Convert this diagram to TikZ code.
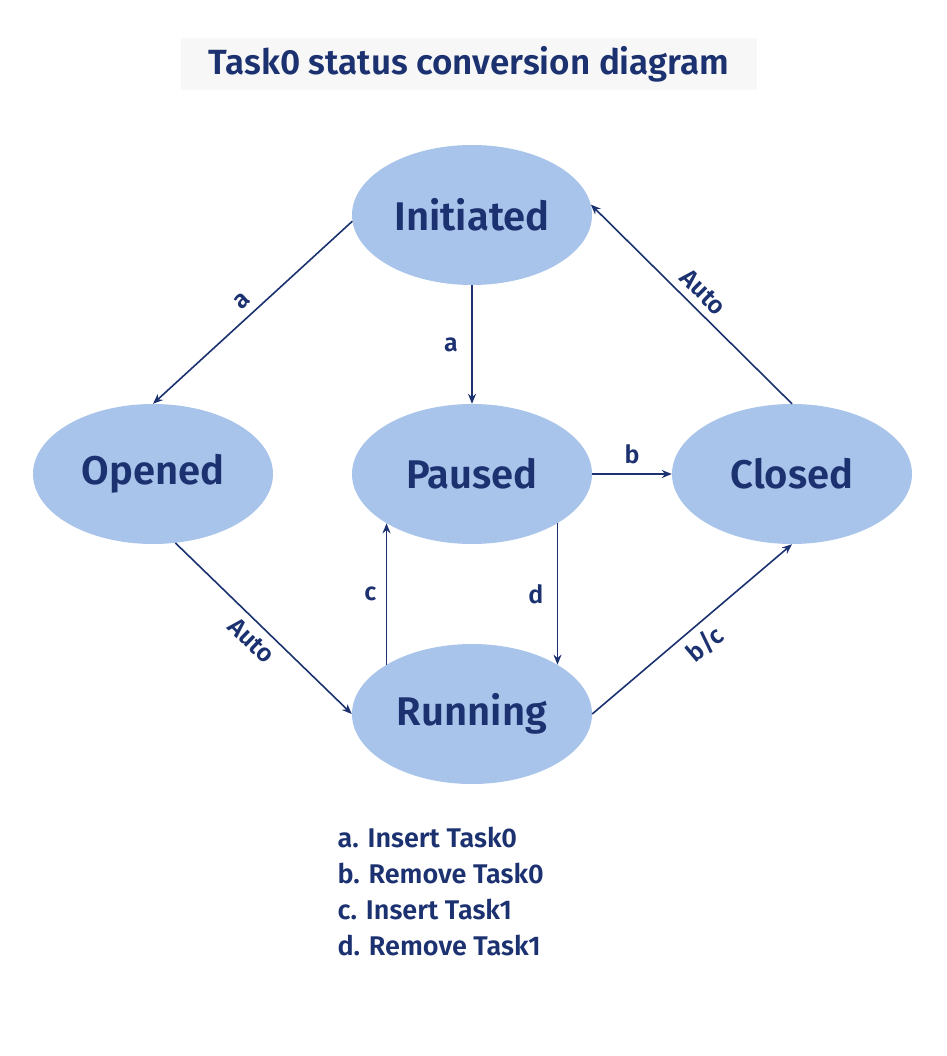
\documentclass[tikz,border=0pt]{standalone}
\usepackage{fontspec}
\setmainfont{Fira Sans}[BoldFont={Fira Sans SemiBold}]
\usetikzlibrary{shapes.geometric,arrows.meta}
\definecolor{navy}{HTML}{1B3170}
\definecolor{stateblue}{HTML}{A9C4EA}
\tikzset{
    >={Stealth[length=10pt,width=8pt]},
    state/.style={
        ellipse,
        fill=stateblue,
        minimum width=240pt,
        minimum height=140pt,
        inner sep=0pt,
        text=navy,
        font=\fontsize{40}{46}\selectfont\bfseries
    },
    trans/.style={draw=navy, line width=1.6pt, ->},
    lbl/.style={text=navy, font=\fontsize{25}{29}\selectfont\bfseries}
}
\begin{document}
\begin{tikzpicture}[x=1pt,y=-1pt]
    \useasboundingbox (0,0) rectangle (946,1056);
    \fill[gray!6] (181,38) rectangle (757,90);
    \node[text=navy, font=\fontsize{35}{40}\selectfont\bfseries] (title) at (469,64) {Task0 status conversion diagram};

    \node[state] (Init) at (472,215) {Initiated};
    \node[state] (Open) at (153,474) {Opened};
    \node[state] (Pau) at (472,474) {Paused};
    \node[state] (Clo) at (792,474) {Closed};
    \node[state] (Run) at (472,714) {Running};

    \draw[trans] (Init.183) -- node[lbl, sloped, above=4pt] {a} (Open.north);
    \draw[trans] (Init.south) -- node[lbl, left=10pt] {a} (Pau.north);
    \draw[trans] (Pau.east) -- node[lbl, above=6pt] {b} (Clo.west);
    \draw[trans] (Pau.-30) -- node[lbl, left=10pt] {d} (Run.30);
    \draw[trans] (Run.150) -- node[lbl, left=6pt] {c} (Pau.-150);
    \draw[trans] (Open.-72) -- node[lbl, sloped, below=4pt] {Auto} (Run.180);
    \draw[trans] (Run.0) -- node[lbl, sloped, below=4pt] {b/c} (Clo.-90);
    \draw[trans] (Clo.north) -- node[lbl, sloped, above=4pt] {Auto} (Init.5);

    \node[lbl, align=left, anchor=north west, font=\fontsize{27}{36}\selectfont\bfseries] (legend) at (334,824) {a. Insert Task0\\b. Remove Task0\\c. Insert Task1\\d. Remove Task1};
\end{tikzpicture}
\end{document}
